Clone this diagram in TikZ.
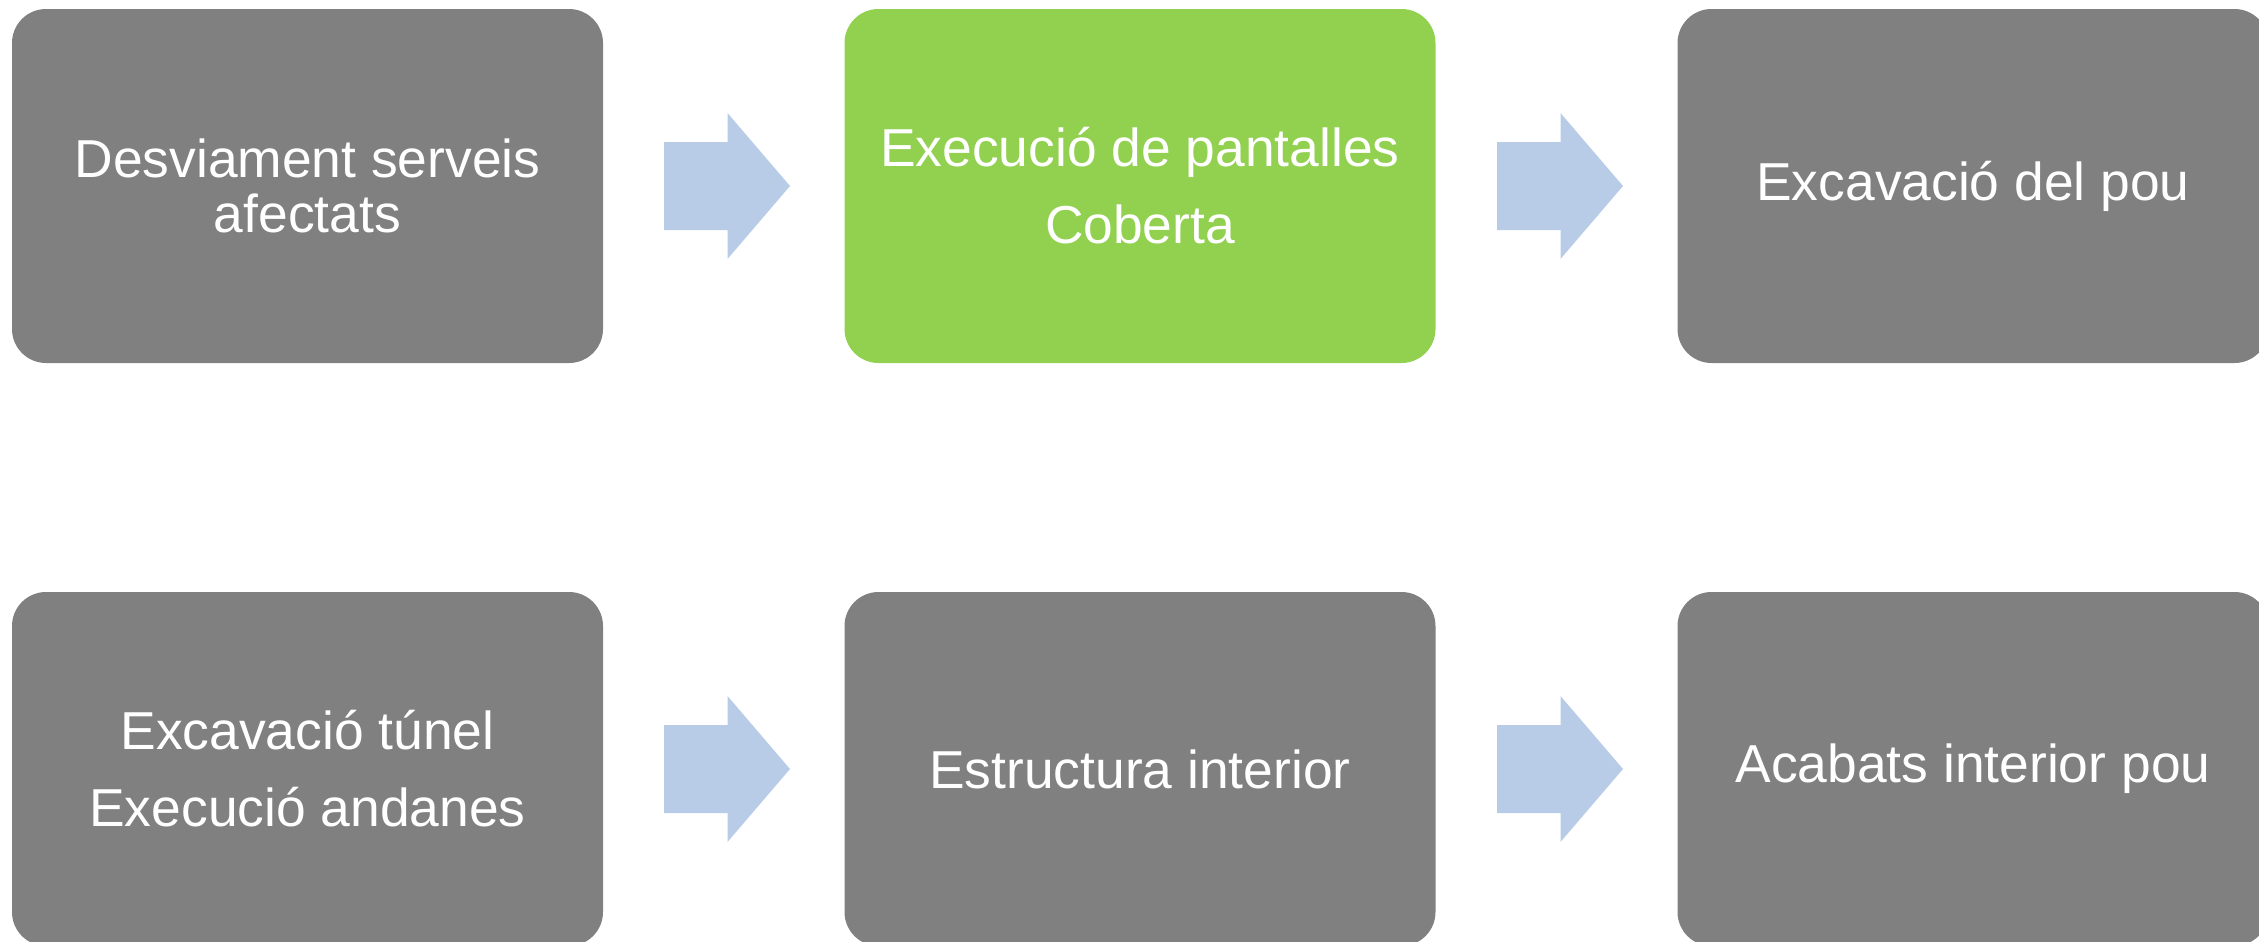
\documentclass[tikz,border=0pt]{standalone}
\usepackage{fontspec}
\setmainfont{Liberation Sans}
\definecolor{boxgray}{HTML}{808080}
\definecolor{boxgreen}{HTML}{92D050}
\definecolor{arrowblue}{HTML}{B8CCE8}
\newcommand{\blkarrow}[1]{\fill[arrowblue, shift={(#1)}] (0,-44) -- (63.5,-44) -- (63.5,-73) -- (126,0) -- (63.5,73) -- (63.5,44) -- (0,44) -- cycle;}
\tikzset{
  stepbox/.style={rectangle, rounded corners=17pt, fill=boxgray, text=white,
    minimum width=295.5pt, minimum height=177pt, inner sep=0pt, align=center,
    font=\fontsize{26.7pt}{27.5pt}\selectfont},
  greenbox/.style={stepbox, fill=boxgreen}
}
\begin{document}
\begin{tikzpicture}[x=0.5pt, y=-0.5pt]
\useasboundingbox (0,0) rectangle (2259,942);
\node[stepbox] (b1) at (307.5,186) {Desviament serveis\\afectats};
\node[greenbox] (b2) at (1140,186) {Execució de pantalles\\[11pt]Coberta};
\node[stepbox] (b3) at (1973,186) {Excavació del pou};
\node[stepbox] (b4) at (307.5,769) {Excavació túnel\\[11pt]Execució andanes};
\node[stepbox] (b5) at (1140,769) {Estructura interior};
\node[stepbox] (b6) at (1973,769) {Acabats interior pou};
\blkarrow{664,186}
\blkarrow{1497,186}
\blkarrow{664,769}
\blkarrow{1497,769}
\end{tikzpicture}
\end{document}
